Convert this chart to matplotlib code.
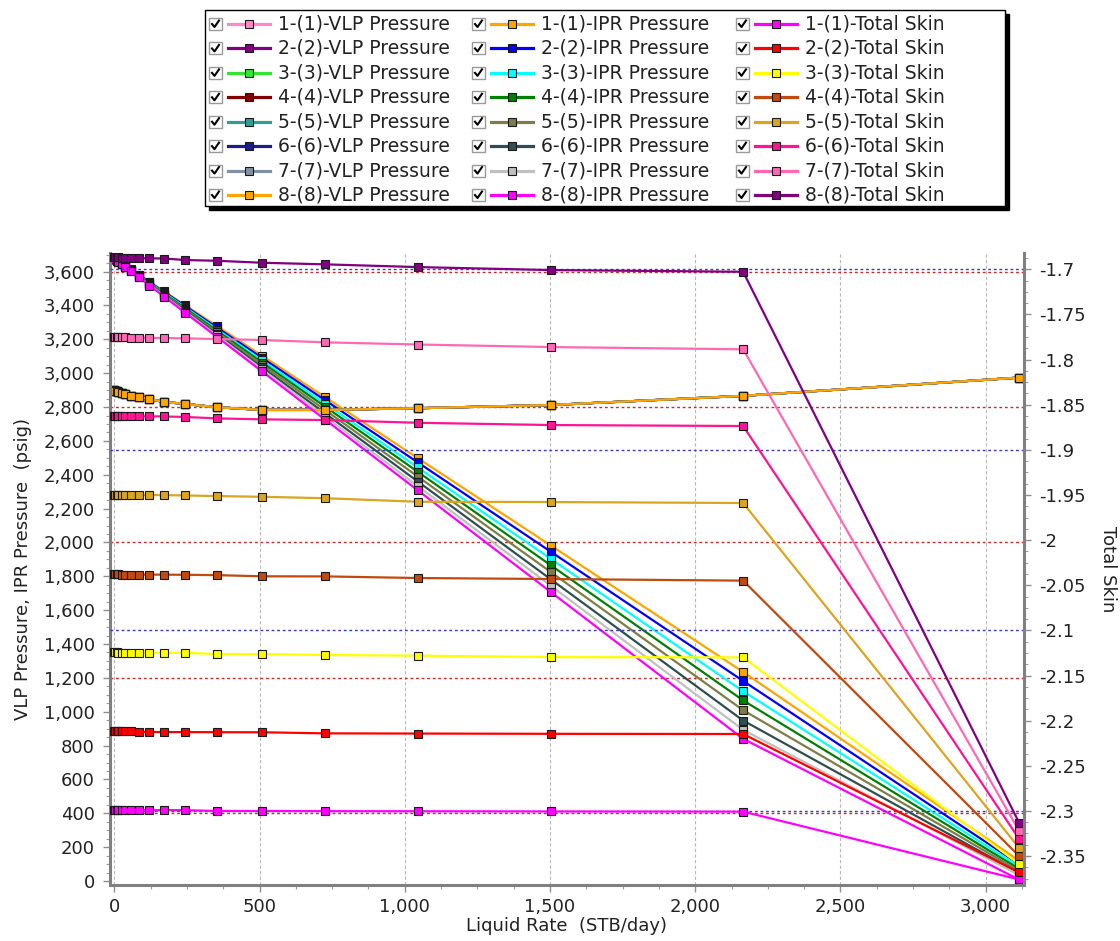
import matplotlib
matplotlib.use("Agg")
import matplotlib.pyplot as plt
from matplotlib.ticker import MultipleLocator, FuncFormatter
from matplotlib.patches import Rectangle
from matplotlib.lines import Line2D

# ---------------- data ----------------
liquid_rate = [0, 4, 9, 14, 25, 37, 56, 85, 121, 172, 245, 352, 509, 727, 1045, 1503, 2165, 3115]

# VLP pressure (identical for all 8 sensitivity cases)
vlp_pressure = [2900, 2897, 2893, 2888, 2882, 2877, 2867, 2861, 2846, 2830, 2818, 2799,
                2783, 2783, 2793, 2812, 2866, 2974]

ipr_1 = [3677, 3672, 3667, 3661, 3649, 3635, 3614, 3581, 3541, 3483, 3401, 3280, 3103, 2857, 2498, 1982, 1235, 120]
ipr_2 = [3677, 3672, 3667, 3661, 3648, 3634, 3612, 3579, 3538, 3479, 3395, 3271, 3090, 2839, 2473, 1945, 1182, 100]
ipr_3 = [3677, 3672, 3666, 3660, 3647, 3633, 3611, 3577, 3534, 3474, 3388, 3261, 3076, 2819, 2443, 1903, 1121, 85]
ipr_4 = [3677, 3672, 3666, 3660, 3647, 3632, 3609, 3575, 3531, 3470, 3382, 3253, 3063, 2801, 2417, 1865, 1067, 72]
ipr_5 = [3677, 3672, 3666, 3660, 3646, 3631, 3608, 3572, 3528, 3465, 3375, 3243, 3050, 2781, 2389, 1825, 1009, 60]
ipr_6 = [3677, 3672, 3666, 3659, 3645, 3630, 3606, 3570, 3524, 3460, 3368, 3233, 3035, 2761, 2360, 1782, 948, 48]
ipr_7 = [3677, 3672, 3665, 3659, 3645, 3629, 3605, 3568, 3521, 3456, 3362, 3224, 3022, 2742, 2333, 1744, 893, 35]
ipr_8 = [3677, 3672, 3665, 3659, 3644, 3629, 3604, 3566, 3518, 3452, 3356, 3216, 3010, 2724, 2308, 1707, 840, 8]

skin_1 = [-2.2990, -2.2990, -2.2990, -2.2990, -2.2990, -2.2990, -2.2990, -2.2990, -2.2991, -2.2991,
          -2.2992, -2.3001, -2.3001, -2.3003, -2.3004, -2.3006, -2.3008, -2.3760]
skin_2 = [-2.2115, -2.2115, -2.2115, -2.2115, -2.2115, -2.2116, -2.2117, -2.2126, -2.2126, -2.2127,
          -2.2127, -2.2128, -2.2129, -2.2141, -2.2143, -2.2146, -2.2148, -2.3680]
skin_3 = [-2.1237, -2.1240, -2.1244, -2.1248, -2.1248, -2.1248, -2.1248, -2.1248, -2.1248, -2.1248,
          -2.1249, -2.1262, -2.1262, -2.1273, -2.1280, -2.1296, -2.1299, -2.3590]
skin_4 = [-2.0380, -2.0380, -2.0380, -2.0380, -2.0381, -2.0381, -2.0381, -2.0382, -2.0382, -2.0383,
          -2.0384, -2.0388, -2.0401, -2.0402, -2.0420, -2.0431, -2.0449, -2.3500]
skin_5 = [-1.9496, -1.9496, -1.9496, -1.9496, -1.9497, -1.9497, -1.9498, -1.9499, -1.9500, -1.9502,
          -1.9505, -1.9512, -1.9520, -1.9536, -1.9575, -1.9578, -1.9589, -2.3410]
skin_6 = [-1.8625, -1.8625, -1.8625, -1.8625, -1.8625, -1.8626, -1.8626, -1.8627, -1.8628, -1.8630,
          -1.8636, -1.8651, -1.8662, -1.8670, -1.8700, -1.8725, -1.8736, -2.3310]
skin_7 = [-1.7750, -1.7751, -1.7752, -1.7753, -1.7755, -1.7755, -1.7756, -1.7757, -1.7759, -1.7761,
          -1.7765, -1.7772, -1.7783, -1.7809, -1.7833, -1.7861, -1.7886, -2.3220]
skin_8 = [-1.6867, -1.6867, -1.6868, -1.6868, -1.6869, -1.6870, -1.6872, -1.6878, -1.6878, -1.6880,
          -1.6897, -1.6905, -1.6927, -1.6945, -1.6975, -1.7008, -1.7027, -2.3130]

case_labels = ["1-(1)", "2-(2)", "3-(3)", "4-(4)", "5-(5)", "6-(6)", "7-(7)", "8-(8)"]
ipr_series = [ipr_1, ipr_2, ipr_3, ipr_4, ipr_5, ipr_6, ipr_7, ipr_8]
skin_series = [skin_1, skin_2, skin_3, skin_4, skin_5, skin_6, skin_7, skin_8]

vlp_colors = ["#ff88c8", "#800080", "#33e633", "#800000", "#2e9e96", "#1c1c8c", "#8391a0", "#ffa500"]
ipr_colors = ["#ffa500", "#0000ff", "#00ffff", "#008000", "#7d7d48", "#2f4f4f", "#c0c0c0", "#ff00ff"]
skin_colors = ["#ff00ff", "#ff0000", "#ffff00", "#c04a10", "#daa520", "#ff1493", "#ff69b4", "#800080"]

red_grid = [400, 1200, 2000, 2800, 3600]
blue_grid = [-2.3, -2.1, -1.9, -1.7]

# ---------------- figure ----------------
W, H = 1120, 941
plt.rcParams['font.family'] = ['DejaVu Sans']
FS = 13
TXT = "#222222"
fig = plt.figure(figsize=(W / 100, H / 100), dpi=100)

L, R, T, B = 110, 1024, 253, 885
ax = fig.add_axes([L / W, 1 - B / H, (R - L) / W, (B - T) / H])
ax2 = ax.twinx()

ax.set_xlim(-14.8, 3132)
ax.set_ylim(-23.6, 3710)
ax2.set_ylim(-2.3821, -1.6819)

ax.set_axisbelow(True)
ax.grid(axis='x', color='#b8b8b8', linestyle=(0, (3, 2)), linewidth=0.8)
for v in red_grid:
    ax.axhline(v, color='#cc2a2a', linestyle=(0, (2, 2)), linewidth=1.0, zorder=1)
for v in blue_grid:
    ax2.axhline(v, color='#3a3acc', linestyle=(0, (2, 2)), linewidth=1.0, zorder=0.5)

mk = dict(marker='s', markersize=5.4, markeredgecolor='#1a1a1a', markeredgewidth=0.8)
LW = 1.6
for i in range(8):
    ax.plot(liquid_rate, vlp_pressure, color=vlp_colors[i], linewidth=LW, zorder=2, **mk)
    ax.plot(liquid_rate, ipr_series[i], color=ipr_colors[i], linewidth=LW, zorder=2, **mk)
for i in range(8):
    ax2.plot(liquid_rate, skin_series[i], color=skin_colors[i], linewidth=LW, zorder=2, **mk)

# spines
for s in ['top']:
    ax.spines[s].set_visible(False)
    ax2.spines[s].set_visible(False)
ax.spines['right'].set_visible(False)
ax2.spines['left'].set_visible(False)
ax2.spines['bottom'].set_visible(False)
for sp in [ax.spines['left'], ax.spines['bottom'], ax2.spines['right']]:
    sp.set_color('#808080')
    sp.set_linewidth(2.2)

# ticks
ax.xaxis.set_major_locator(MultipleLocator(500))
ax.xaxis.set_minor_locator(MultipleLocator(125))
ax.yaxis.set_major_locator(MultipleLocator(200))
ax.yaxis.set_minor_locator(MultipleLocator(50))
ax2.yaxis.set_major_locator(MultipleLocator(0.05))
ax2.yaxis.set_minor_locator(MultipleLocator(0.0125))
comma = FuncFormatter(lambda v, p: f"{v:,.0f}")
ax.xaxis.set_major_formatter(comma)
ax.yaxis.set_major_formatter(comma)
ax2.yaxis.set_major_formatter(FuncFormatter(lambda v, p: f"{v:g}"))

for a in (ax, ax2):
    a.tick_params(which='major', direction='out', length=5, width=1, color='#909090',
                  labelsize=FS, labelcolor=TXT, pad=6)
    a.tick_params(which='minor', direction='out', length=3, width=0.8, color='#a0a0a0')
ax.tick_params(axis='x', which='major', pad=4)
ax.tick_params(axis='y', which='both', right=False)
ax2.tick_params(axis='y', which='both', left=False)

ax.set_xlabel("Liquid Rate  (STB/day)", fontsize=FS, color=TXT, labelpad=1)
ax.set_ylabel("VLP Pressure, IPR Pressure  (psig)", fontsize=FS, color=TXT, labelpad=8)
ax2.set_ylabel("Total Skin", fontsize=FS, color=TXT, rotation=-90, labelpad=22)

# ---------------- legend (check-box style) ----------------
def fx(x):
    return x / W

def fy(y):
    return 1 - y / H

box_l, box_t, box_r, box_b = 205, 10, 1005, 206
fig.add_artist(Rectangle((fx(box_l + 4), fy(box_b + 4)), (box_r - box_l) / W, (box_b - box_t) / H,
                         transform=fig.transFigure, facecolor='black', edgecolor='black', lw=1))
fig.add_artist(Rectangle((fx(box_l), fy(box_b)), (box_r - box_l) / W, (box_b - box_t) / H,
                         transform=fig.transFigure, facecolor='white', edgecolor='black', lw=1))

col_x = [209, 472, 736]
row_y0, row_dy = 24, 24.43
columns = [("VLP Pressure", vlp_colors), ("IPR Pressure", ipr_colors), ("Total Skin", skin_colors)]
for c, (name, cols) in enumerate(columns):
    x0 = col_x[c]
    for r in range(8):
        yc = row_y0 + r * row_dy
        # checkbox
        fig.add_artist(Rectangle((fx(x0), fy(yc + 6)), 13 / W, 12 / H, transform=fig.transFigure,
                                 facecolor='white', edgecolor='#9a9a9a', lw=1))
        fig.add_artist(Line2D([fx(x0 + 3), fx(x0 + 5.5), fx(x0 + 10)],
                              [fy(yc), fy(yc + 3), fy(yc - 3.5)], transform=fig.transFigure,
                              color='black', lw=1.5))
        # handle
        fig.add_artist(Line2D([fx(x0 + 19), fx(x0 + 61)], [fy(yc), fy(yc)], transform=fig.transFigure,
                              color=cols[r], lw=2.3))
        fig.add_artist(Line2D([fx(x0 + 40)], [fy(yc)], transform=fig.transFigure, marker='s',
                              markersize=6.3, markerfacecolor=cols[r], markeredgecolor='#1a1a1a',
                              markeredgewidth=0.8, linestyle='none'))
        fig.text(fx(x0 + 69), fy(yc), f"{case_labels[r]}-{name}", fontsize=FS + 0.5, color=TXT,
                 va='center', ha='left')

fig.savefig("out.png", dpi=100)
